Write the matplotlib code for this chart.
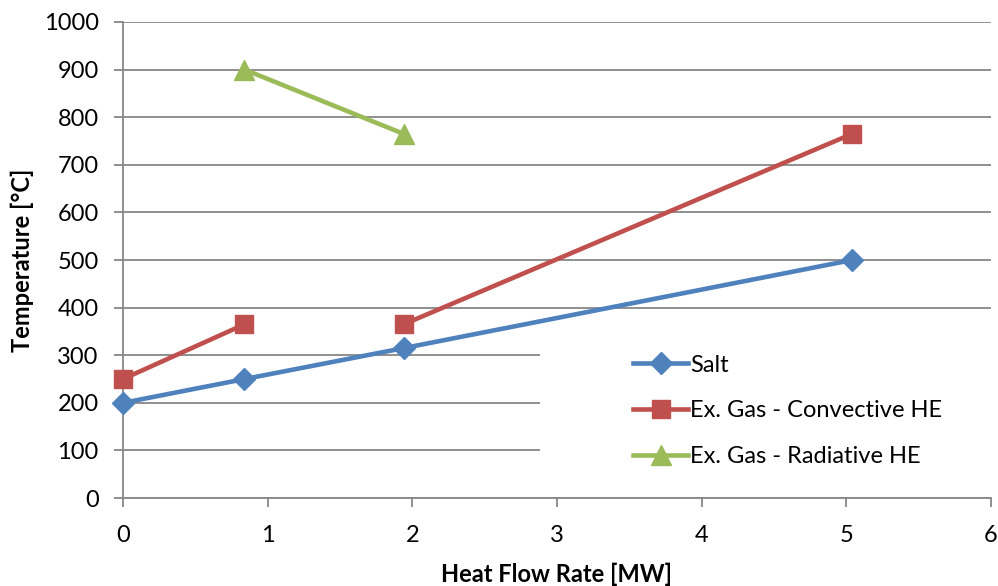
import matplotlib.pyplot as plt
from matplotlib.patches import Rectangle

plt.rcParams["font.family"] = ["Lato", "DejaVu Sans"]

salt_x = [0, 0.84, 1.94, 5.04]
salt_y = [200, 250, 315, 500]
# convective series has a gap between the 2nd and 3rd point
conv_x = [0, 0.84, 1.94, 5.04]
conv_y = [250, 365, 365, 765]
rad_x = [0.84, 1.94]
rad_y = [900, 765]

SALT_COLOR = "#4F81BD"
CONV_COLOR = "#C0504D"
RAD_COLOR = "#9BBB59"
GRID_COLOR = "#878787"

fig = plt.figure(figsize=(9.98, 5.86), dpi=100)
ax = fig.add_axes([0.1232, 0.150, 0.8698, 0.8125])

ax.plot(salt_x, salt_y, color=SALT_COLOR, lw=3.3, marker="D", ms=11,
        label="Salt", zorder=3, clip_on=False)
ax.plot(conv_x[:2], conv_y[:2], color=CONV_COLOR, lw=3.3, marker="s", ms=13,
        label="Ex. Gas - Convective HE", zorder=3, clip_on=False)
ax.plot(conv_x[2:], conv_y[2:], color=CONV_COLOR, lw=3.3, marker="s", ms=13,
        zorder=3, clip_on=False)
ax.plot(rad_x, rad_y, color=RAD_COLOR, lw=3.3, marker="^", ms=14,
        label="Ex. Gas - Radiative HE", zorder=3, clip_on=False)

ax.set_xlim(0, 6)
ax.set_ylim(0, 1000)
ax.set_xticks(range(0, 7))
ax.set_yticks(range(0, 1001, 100))

ax.yaxis.grid(True, color=GRID_COLOR, lw=1.3)
ax.set_axisbelow(True)
for s in ["top", "right"]:
    ax.spines[s].set_visible(False)
for s in ["left", "bottom"]:
    ax.spines[s].set_color(GRID_COLOR)
    ax.spines[s].set_linewidth(1.3)
ax.tick_params(axis="both", colors=GRID_COLOR, labelcolor="black",
               labelsize=17, length=6.5, width=1.3)
ax.tick_params(axis="x", pad=13)
ax.tick_params(axis="y", pad=11)

# white legend area covering the grid lines
ax.add_patch(Rectangle((0.48, 0.04), 0.52, 0.31, transform=ax.transAxes,
                       facecolor="white", edgecolor="none", zorder=1))

ax.legend(loc="upper left", bbox_to_anchor=(0.5876, 0.3015), frameon=False,
          fontsize=17, handlelength=2.33, handletextpad=0.1,
          labelspacing=1.05, borderaxespad=0, borderpad=0)

ax.set_xlabel("Heat Flow Rate [MW]", fontsize=17, fontweight="bold")
ax.set_ylabel("Temperature [°C]", fontsize=17, fontweight="bold")
ax.xaxis.set_label_coords(0.5, -0.135)
ax.yaxis.set_label_coords(-0.103, 0.5)

fig.savefig("out.png", dpi=100, facecolor="white")
